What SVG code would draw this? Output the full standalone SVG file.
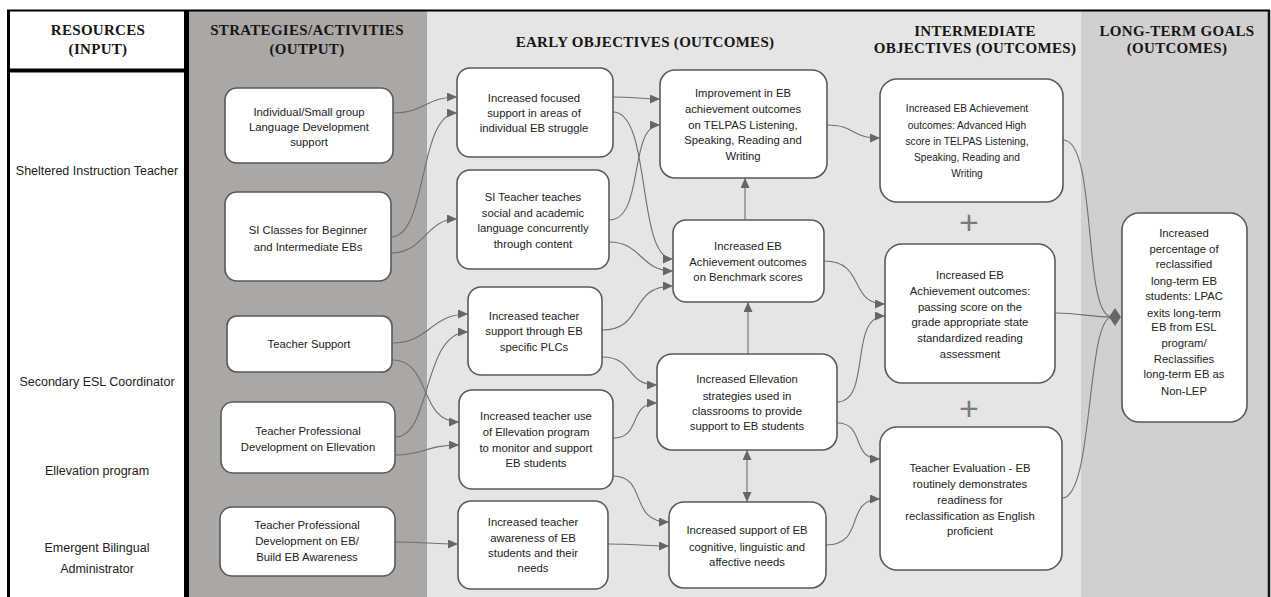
<svg xmlns="http://www.w3.org/2000/svg" width="1271" height="597" viewBox="0 0 1271 597">
<style>
.hd{font-family:"Liberation Serif","Times New Roman",serif;font-weight:bold;font-size:15px;letter-spacing:0.3px;fill:#161616;text-anchor:middle}
.res{font-family:"Liberation Sans",Arial,sans-serif;font-size:12.5px;fill:#222;text-anchor:middle}
.box{fill:#fff;stroke:#5a5a5a;stroke-width:1.6}
.t{font-family:"Liberation Sans",Arial,sans-serif;font-size:11.3px;fill:#222;text-anchor:middle}
.t.sm{font-size:10.2px}
.conn{fill:none;stroke:#707070;stroke-width:1.1}
.plus{font-family:"Liberation Sans",Arial,sans-serif;font-size:34px;fill:#7a7a7a;text-anchor:middle}
</style>
<defs>
<marker id="arr" markerUnits="userSpaceOnUse" markerWidth="11" markerHeight="9" refX="10" refY="4.5" orient="auto">
<path d="M0,0 L10,4.5 L0,9 z" fill="#666"/>
</marker>
<marker id="arrS" markerUnits="userSpaceOnUse" markerWidth="11" markerHeight="9" refX="0" refY="4.5" orient="auto">
<path d="M10,0 L0,4.5 L10,9 z" fill="#666"/>
</marker>
</defs>

<g id="background">
<rect x="0" y="0" width="1271" height="597" fill="#fff"/>
<rect x="189" y="11" width="238" height="586" fill="#aaa7a5"/>
<rect x="427" y="11" width="654" height="586" fill="#e5e5e5"/>
<rect x="1081" y="11" width="188" height="586" fill="#d1cfd0"/>
<line x1="7" y1="10.5" x2="1270" y2="10.5" stroke="#000" stroke-width="2"/>
<line x1="1269" y1="10" x2="1269" y2="597" stroke="#111" stroke-width="2.5"/>
<line x1="8.5" y1="10" x2="8.5" y2="597" stroke="#000" stroke-width="3"/>
<line x1="186.5" y1="10" x2="186.5" y2="597" stroke="#000" stroke-width="5"/>
<line x1="8" y1="70.5" x2="186" y2="70.5" stroke="#000" stroke-width="4"/>
</g>

<g id="headers">
<text class="hd" x="98" y="35">RESOURCES</text>
<text class="hd" x="98" y="54">(INPUT)</text>
<text class="hd" x="307" y="35">STRATEGIES/ACTIVITIES</text>
<text class="hd" x="307" y="54">(OUTPUT)</text>
<text class="hd" x="645" y="47">EARLY OBJECTIVES (OUTCOMES)</text>
<text class="hd" x="975" y="36">INTERMEDIATE</text>
<text class="hd" x="975" y="53">OBJECTIVES (OUTCOMES)</text>
<text class="hd" x="1177" y="36">LONG-TERM GOALS</text>
<text class="hd" x="1177" y="53">(OUTCOMES)</text>
</g>

<g id="resources">
<text class="res" x="97" y="175">Sheltered Instruction Teacher</text>
<text class="res" x="97" y="386">Secondary ESL Coordinator</text>
<text class="res" x="97" y="475">Ellevation program</text>
<text class="res" x="97" y="552">Emergent Bilingual</text>
<text class="res" x="97" y="573">Administrator</text>
</g>

<g id="connectors">
<path class="conn" marker-end="url(#arr)" d="M393,113 C425,113 425,97 457,97"/>
<path class="conn" marker-end="url(#arr)" d="M391,237 C428,237 418,113 457,113"/>
<path class="conn" marker-end="url(#arr)" d="M391,253 C425,253 425,219 457,219"/>
<path class="conn" marker-end="url(#arr)" d="M392,343 C430,343 430,314 468,314"/>
<path class="conn" marker-end="url(#arr)" d="M392,360 C432,360 418,422 459,422"/>
<path class="conn" marker-end="url(#arr)" d="M395,437 C432,437 422,332 468,332"/>
<path class="conn" marker-end="url(#arr)" d="M395,455 C425,455 425,445 459,445"/>
<path class="conn" marker-end="url(#arr)" d="M395,542 C425,542 430,544 458,544"/>
<path class="conn" marker-end="url(#arr)" d="M613,97 C635,97 640,99 660,99"/>
<path class="conn" marker-end="url(#arr)" d="M613,112 C652,112 636,259 673,259"/>
<path class="conn" marker-end="url(#arr)" d="M609,220 C645,220 628,125 660,125"/>
<path class="conn" marker-end="url(#arr)" d="M609,242 C642,242 640,271 673,271"/>
<path class="conn" marker-end="url(#arr)" d="M602,330 C645,330 628,286 673,286"/>
<path class="conn" marker-end="url(#arr)" d="M602,357 C635,357 625,385 657,385"/>
<path class="conn" marker-end="url(#arr)" d="M613,438 C642,438 628,403 657,403"/>
<path class="conn" marker-end="url(#arr)" d="M613,476 C648,476 628,522 669,522"/>
<path class="conn" marker-end="url(#arr)" d="M608,544 C640,544 640,546 669,546"/>
<path class="conn" marker-end="url(#arr)" d="M745,220 L745,178"/>
<path class="conn" marker-end="url(#arr)" d="M748,354 L748,302"/>
<path class="conn" marker-start="url(#arrS)" marker-end="url(#arr)" d="M747,450 L747,502"/>
<path class="conn" marker-end="url(#arr)" d="M827,125 C856,125 850,138 880,138"/>
<path class="conn" marker-end="url(#arr)" d="M824,261 C866,261 848,304 885,304"/>
<path class="conn" marker-end="url(#arr)" d="M837,402 C872,402 848,316 885,316"/>
<path class="conn" marker-end="url(#arr)" d="M837,423 C866,423 850,459 880,459"/>
<path class="conn" marker-end="url(#arr)" d="M826,545 C866,545 844,499 880,499"/>
<path class="conn" d="M1063,140 C1098,140 1082,317 1112,317"/>
<path class="conn" d="M1055,313 C1080,313 1090,317 1112,317"/>
<path class="conn" d="M1062,498 C1094,498 1086,317 1112,317"/>
<polygon points="1115,308 1121,317 1115,326 1109,317" fill="#666"/>
</g>

<g id="n1"><rect class="box" x="225" y="88" width="168" height="75" rx="12"/>
<text class="t" x="309" y="116">Individual/Small group</text><text class="t" x="309" y="131">Language Development</text><text class="t" x="309" y="146">support</text></g>
<g id="n2"><rect class="box" x="225" y="192" width="166" height="89" rx="12"/>
<text class="t" x="308" y="234">SI Classes for Beginner</text><text class="t" x="308" y="251">and Intermediate EBs</text></g>
<g id="n3"><rect class="box" x="227" y="316" width="165" height="56" rx="10"/>
<text class="t" x="309" y="348">Teacher Support</text></g>
<g id="n4"><rect class="box" x="221" y="402" width="174" height="71" rx="12"/>
<text class="t" x="308" y="435">Teacher Professional</text><text class="t" x="308" y="451">Development on Ellevation</text></g>
<g id="n5"><rect class="box" x="220" y="507" width="175" height="69" rx="12"/>
<text class="t" x="307" y="529">Teacher Professional</text><text class="t" x="307" y="545">Development on EB/</text><text class="t" x="307" y="561">Build EB Awareness</text></g>

<g id="a1"><rect class="box" x="457" y="68" width="156" height="89" rx="13"/>
<text class="t" x="534" y="102">Increased focused</text><text class="t" x="534" y="117">support in areas of</text><text class="t" x="534" y="132">individual EB struggle</text></g>
<g id="a2"><rect class="box" x="457" y="170" width="152" height="99" rx="13"/>
<text class="t" x="533" y="201">SI Teacher teaches</text><text class="t" x="533" y="217">social and academic</text><text class="t" x="533" y="232">language concurrently</text><text class="t" x="533" y="248">through content</text></g>
<g id="a3"><rect class="box" x="468" y="287" width="134" height="88" rx="13"/>
<text class="t" x="534" y="320">Increased teacher</text><text class="t" x="534" y="335">support through EB</text><text class="t" x="534" y="351">specific PLCs</text></g>
<g id="a4"><rect class="box" x="459" y="390" width="154" height="99" rx="13"/>
<text class="t" x="536" y="420">Increased teacher use</text><text class="t" x="536" y="436">of Ellevation program</text><text class="t" x="536" y="452">to monitor and support</text><text class="t" x="536" y="467">EB students</text></g>
<g id="a5"><rect class="box" x="458" y="501" width="150" height="88" rx="13"/>
<text class="t" x="533" y="526">Increased teacher</text><text class="t" x="533" y="542">awareness of EB</text><text class="t" x="533" y="557">students and their</text><text class="t" x="533" y="572">needs</text></g>

<g id="b1"><rect class="box" x="660" y="70" width="167" height="108" rx="15"/>
<text class="t" x="743" y="97">Improvement in EB</text><text class="t" x="743" y="113">achievement outcomes</text><text class="t" x="743" y="129">on TELPAS Listening,</text><text class="t" x="743" y="144">Speaking, Reading and</text><text class="t" x="743" y="160">Writing</text></g>
<g id="b2"><rect class="box" x="673" y="220" width="151" height="82" rx="13"/>
<text class="t" x="748" y="250">Increased EB</text><text class="t" x="748" y="266">Achievement outcomes</text><text class="t" x="748" y="281">on Benchmark scores</text></g>
<g id="b3"><rect class="box" x="657" y="354" width="180" height="96" rx="15"/>
<text class="t" x="747" y="383">Increased Ellevation</text><text class="t" x="747" y="400">strategies used in</text><text class="t" x="747" y="415">classrooms to provide</text><text class="t" x="747" y="430">support to EB students</text></g>
<g id="b4"><rect class="box" x="669" y="502" width="157" height="86" rx="15"/>
<text class="t" x="747" y="534">Increased support of EB</text><text class="t" x="747" y="551">cognitive, linguistic and</text><text class="t" x="747" y="566">affective needs</text></g>

<g id="c1"><rect class="box" x="880" y="79" width="183" height="123" rx="17"/>
<text class="t sm" x="967" y="112">Increased EB Achievement</text><text class="t sm" x="967" y="129">outcomes: Advanced High</text><text class="t sm" x="967" y="145">score in TELPAS Listening,</text><text class="t sm" x="967" y="161">Speaking, Reading and</text><text class="t sm" x="967" y="177">Writing</text></g>
<text class="plus" x="969" y="234">+</text>
<g id="c2"><rect class="box" x="885" y="244" width="170" height="139" rx="17"/>
<text class="t" x="970" y="279">Increased EB</text><text class="t" x="970" y="295">Achievement outcomes:</text><text class="t" x="970" y="311">passing score on the</text><text class="t" x="970" y="326">grade appropriate state</text><text class="t" x="970" y="342">standardized reading</text><text class="t" x="970" y="358">assessment</text></g>
<text class="plus" x="969" y="420">+</text>
<g id="c3"><rect class="box" x="880" y="427" width="182" height="143" rx="17"/>
<text class="t" x="970" y="472">Teacher Evaluation - EB</text><text class="t" x="970" y="488">routinely demonstrates</text><text class="t" x="970" y="504">readiness for</text><text class="t" x="970" y="520">reclassification as English</text><text class="t" x="970" y="535">proficient</text></g>

<g id="d1"><rect class="box" x="1122" y="213" width="125" height="209" rx="17"/>
<text class="t" x="1184" y="237">Increased</text><text class="t" x="1184" y="253">percentage of</text><text class="t" x="1184" y="268">reclassified</text><text class="t" x="1184" y="285">long-term EB</text><text class="t" x="1184" y="300">students: LPAC</text><text class="t" x="1184" y="317">exits long-term</text><text class="t" x="1184" y="331">EB from ESL</text><text class="t" x="1184" y="347">program/</text><text class="t" x="1184" y="363">Reclassifies</text><text class="t" x="1184" y="378">long-term EB as</text><text class="t" x="1184" y="395">Non-LEP</text></g>
</svg>
